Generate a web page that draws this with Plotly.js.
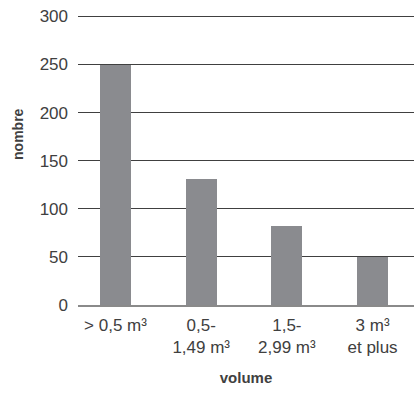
<!DOCTYPE html>
<html><head><meta charset="utf-8">
<script src="https://cdn.plot.ly/plotly-3.0.1.min.js"></script>
<style>html,body{margin:0;padding:0;background:#fff}#chart{width:414px;height:393px}</style>
</head><body><div id="chart"></div>
<script>
const categories = ["> 0,5 m³", "0,5-<br>1,49 m³", "1,5-<br>2,99 m³", "3 m³<br>et plus"];
const values = [250, 131, 82, 50];
const yTicks = [0, 50, 100, 150, 200, 250, 300];

const trace = {
  type: 'bar',
  x: [0, 1, 2, 3],
  y: values,
  width: 0.36,
  marker: {color: '#8a8b8f', line: {width: 0}},
  hoverinfo: 'skip'
};
const layout = {
  width: 414, height: 393,
  margin: {l: 78, r: 0, t: 14, b: 88},
  paper_bgcolor: '#fff', plot_bgcolor: '#fff',
  font: {family: 'Liberation Sans, Arial, sans-serif', size: 17, color: '#404040'},
  showlegend: false,
  bargap: 0,
  xaxis: {
    range: [-0.438, 3.484],
    tickmode: 'array', tickvals: [0, 1, 2, 3], ticktext: categories,
    showgrid: false, zeroline: false,
    showline: true, linecolor: '#8a8a8a', linewidth: 1.5,
    ticks: '', ticklabelstandoff: 4,
    title: {text: '<b>volume</b>', font: {size: 15, color: '#404040'}, standoff: 16}
  },
  yaxis: {
    range: [0, 302.5], tickmode: 'array', tickvals: yTicks,
    showgrid: true, gridcolor: '#404040', gridwidth: 1,
    zeroline: false, showline: false, ticks: '', ticklabelstandoff: 9
  },
  annotations: [{
    text: '<b>nombre</b>', textangle: -90, showarrow: false,
    xref: 'paper', yref: 'y', x: -0.178, y: 178, xanchor: 'center', yanchor: 'middle',
    font: {size: 14, color: '#404040'}
  }]
};
Plotly.newPlot('chart', [trace], layout, {staticPlot: true, displayModeBar: false});
</script></body></html>
